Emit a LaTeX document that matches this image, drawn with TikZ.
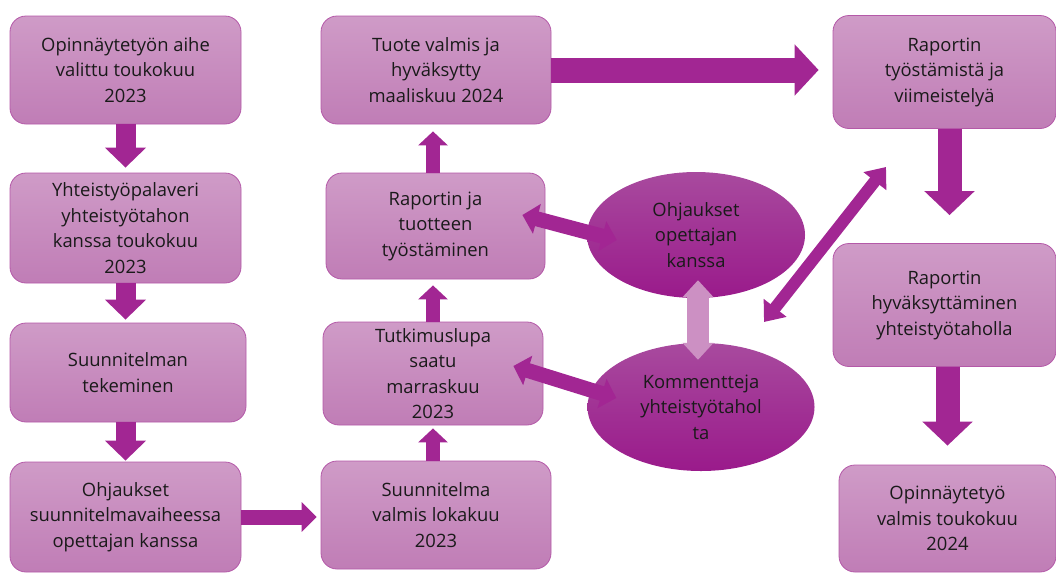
\documentclass[tikz,border=0pt]{standalone}
\usepackage{fontspec}
\setmainfont{Open Sans}
\usetikzlibrary{arrows.meta,calc,shapes.geometric}
\definecolor{boxtop}{HTML}{CF9BC7}
\definecolor{boxbot}{HTML}{C07DB6}
\definecolor{boxline}{HTML}{B459A8}
\definecolor{ovaltop}{HTML}{A84A9E}
\definecolor{ovalbot}{HTML}{9A1A8B}
\definecolor{arrowc}{HTML}{A22693}
\definecolor{lightc}{HTML}{CC90C3}
\definecolor{txt}{HTML}{1A1A1A}
\tikzset{
	box/.style={draw=boxline, line width=0.8pt, rounded corners=16pt, top color=boxtop, bottom color=boxbot, align=center, inner sep=0pt, text=txt, font=\fontsize{18.4}{25.5}\selectfont},
	oval/.style={ellipse, top color=ovaltop, bottom color=ovalbot, align=center, inner sep=0pt, text=txt, font=\fontsize{18.4}{25.5}\selectfont},
	flow/.style n args={3}{draw=arrowc, line width=#1, -{Triangle[width=#2,length=#3]}},
	flowtwo/.style n args={3}{draw=arrowc, line width=#1, {Triangle[width=#2,length=#3]}-{Triangle[width=#2,length=#3]}},
}
\begin{document}
\begin{tikzpicture}[x=1pt,y=-1pt]
\useasboundingbox (0,0) rectangle (1056,574);
\node[box, minimum width=231pt, minimum height=108pt] (b1) at (125.5,70) {Opinnäytetyön aihe\\valittu toukokuu\\2023};
\node[box, minimum width=231pt, minimum height=110pt] (b2) at (125.5,228) {Yhteistyöpalaveri\\yhteistyötahon\\kanssa toukokuu\\2023};
\node[box, minimum width=236pt, minimum height=99pt] (b3) at (128,372.5) {Suunnitelman\\tekeminen};
\node[box, minimum width=231pt, minimum height=110pt] (b4) at (125.5,517) {Ohjaukset\\suunnitelmavaiheessa\\opettajan kanssa};
\node[box, minimum width=230pt, minimum height=108pt] (c1) at (436,70) {Tuote valmis ja\\hyväksytty\\maaliskuu 2024};
\node[box, minimum width=219pt, minimum height=106pt] (c2) at (435.5,226) {Raportin ja\\tuotteen\\työstäminen};
\node[box, minimum width=220pt, minimum height=103pt] (c3) at (433,373.5) {Tutkimuslupa\\saatu\\marraskuu\\2023};
\node[box, minimum width=230pt, minimum height=108pt] (c4) at (436,515) {Suunnitelma\\valmis lokakuu\\2023};
\node[oval, minimum width=218pt, minimum height=126pt] (e1) at (696,235) {Ohjaukset\\opettajan\\kanssa};
\node[oval, minimum width=227pt, minimum height=128pt] (e2) at (701,407) {Kommentteja\\yhteistyötahol\\ta};
\node[box, minimum width=223pt, minimum height=113pt] (d1) at (944.5,72) {Raportin\\työstämistä ja\\viimeistelyä};
\node[box, minimum width=223pt, minimum height=123pt] (d2) at (944.5,305) {Raportin\\hyväksyttäminen\\yhteistyötaholla};
\node[box, minimum width=217pt, minimum height=107pt] (d3) at (947.5,518.5) {Opinnäytetyö\\valmis toukokuu\\2024};
\coordinate (dg1) at (764,322);
\coordinate (dg2) at (886,167);
\draw[flow={20pt}{40pt}{20pt}, shorten >=5pt] (b1.south) -- (b2.north);
\draw[flow={20pt}{40pt}{20pt}, shorten >=3pt] (b2.south) -- (b2.south |- b3.north);
\draw[flow={20pt}{40pt}{20pt}, shorten >=1pt] (b4.north |- b3.south) -- (b4.north);
\draw[flow={15pt}{29pt}{15pt}, shorten >=4pt] (b4.east) -- (b4.east -| c4.west);
\draw[flow={14pt}{29pt}{14pt}, shorten >=3pt] (c3.south |- c4.north) -- (c3.south);
\draw[flow={14pt}{29pt}{14pt}, shorten >=6pt] (c3.north) -- (c3.north |- c2.south);
\draw[flow={14pt}{29pt}{14pt}, shorten >=7pt] (c3.north |- c2.north) -- (c3.north |- c1.south);
\draw[flow={25pt}{50pt}{24pt}, shorten >=14pt] (c1.east) -- (c1.east -| d1.west);
\draw[flow={24pt}{49pt}{24pt}, shorten >=28pt] ([xshift=5pt]d1.south) -- ([xshift=5pt]d1.south |- d2.north);
\draw[flow={24pt}{49pt}{24pt}, shorten >=19pt] (d3.north |- d2.south) -- (d3.north);
\draw[flowtwo={15pt}{30pt}{15pt}] ($(c2.east)+(-23,-11)$) -- ($(e1.west)+(30,5)$);
\draw[flowtwo={15pt}{30pt}{15pt}] ($(c3.east)+(-30,-7.5)$) -- ($(e2.west)+(29,-9)$);
\draw[flowtwo={22pt}{30pt}{17pt}, draw=lightc] ($(e1.south)+(2,-18)$) -- ($(e2.north)+(-3,17)$);
\draw[flowtwo={12pt}{28pt}{18pt}] (dg1) -- (dg2);
\end{tikzpicture}
\end{document}
